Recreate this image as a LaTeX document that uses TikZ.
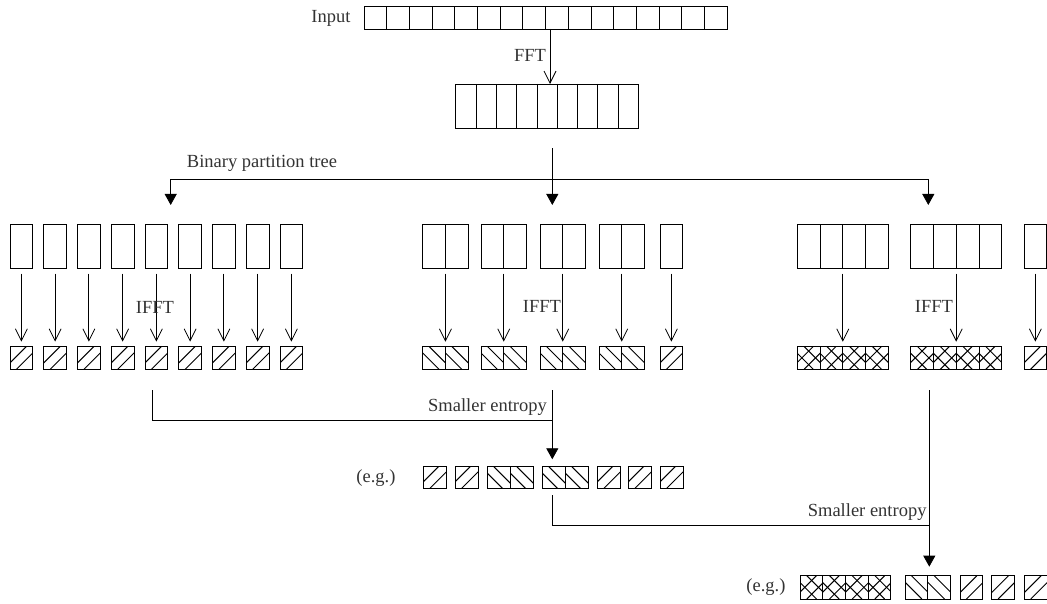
\documentclass[tikz,border=0pt]{standalone}
\usepackage{fontspec}
\setmainfont{Liberation Serif}
\usetikzlibrary{arrows.meta}
\tikzset{
  cellnode/.style={draw, anchor=north west, inner sep=0pt, outer sep=0pt, line width=0.8pt},
  lbl/.style={font=\fontsize{18.5}{22}\selectfont, inner sep=0pt, text=black!80},
  openarr/.style={line width=0.8pt, -{Straight Barb[length=12pt,width=12pt,line width=0.8pt]}},
  triarr/.style={line width=0.8pt, -{Triangle[length=11pt,width=12pt]}},
  plainline/.style={line width=0.8pt},
  hatch/.style={line width=1pt},
}
% #1 name, #2 x, #3 y, #4 cells, #5 cell width, #6 height, #7 pattern (0 none,1 NE,2 NW,3 cross)
\newcommand\cellbox[7]{%
  \node[cellnode, minimum width=#4*#5pt, minimum height=#6pt] (#1) at (#2,#3) {};
  \foreach \k in {1,...,#4}{%
    \pgfmathsetmacro\cx{#2+(\k-1)*#5}%
    \ifnum\k>1 \draw[plainline] (\cx,#3) -- ++(0,#6);\fi
    \begin{scope}
      \clip (\cx,#3) rectangle ++(#5,#6);
      \ifcase#7
      \or
        \draw[hatch] ({\cx-0.285*#5},{#3+#6}) -- ++(#6,-#6);
        \draw[hatch] ({\cx+0.285*#5},{#3+#6}) -- ++(#6,-#6);
      \or
        \draw[hatch] ({\cx-0.285*#5},#3) -- ++(#6,#6);
        \draw[hatch] ({\cx+0.285*#5},#3) -- ++(#6,#6);
      \or
        \draw[hatch] ({\cx-0.3*#5},{#3+#6}) -- ++(#6,-#6);
        \draw[hatch] ({\cx+0.3*#5},{#3+#6}) -- ++(#6,-#6);
        \draw[hatch] ({\cx-0.3*#5},#3) -- ++(#6,#6);
        \draw[hatch] ({\cx+0.3*#5},#3) -- ++(#6,#6);
      \fi
    \end{scope}
  }%
}
\begin{document}
\begin{tikzpicture}[x=1pt,y=-1pt]
\useasboundingbox (0,0) rectangle (1047,604);

% Input and spectrum
\node[lbl] (inlbl) at (331,18) {Input};
\cellbox{in}{364}{6.7}{16}{22.69}{22.3}{0}
\cellbox{sp}{455.7}{84}{9}{20.3}{44.5}{0}
\coordinate (fftx) at (550,0);
\draw[openarr] (in.south -| fftx) -- (sp.north -| fftx);
\node[lbl] (fftlbl) at (530,55) {FFT};

% Group 1
\foreach \i in {0,...,8}{
  \pgfmathsetmacro\gx{10+33.75*\i}
  \cellbox{g1t\i}{\gx}{224.5}{1}{22.75}{44}{0}
  \cellbox{g1b\i}{\gx}{346.5}{1}{22.75}{22.8}{1}
  \draw[openarr, shorten <=5pt, shorten >=4.8pt] (g1t\i.south) -- (g1b\i.north);
}
% Group 2
\foreach \gx/\n/\p [count=\i] in {422.7/2/2, 481/2/2, 540/2/2, 599/2/2, 660/1/1}{
  \cellbox{g2t\i}{\gx}{224.5}{\n}{22.75}{44}{0}
  \cellbox{g2b\i}{\gx}{346.5}{\n}{22.75}{22.8}{\p}
  \draw[openarr, shorten <=5pt, shorten >=4.8pt] (g2t\i.south) -- (g2b\i.north);
}
% Group 3
\foreach \gx/\n/\p [count=\i] in {797.3/4/3, 910.7/4/3, 1024/1/1}{
  \cellbox{g3t\i}{\gx}{224.5}{\n}{22.75}{44}{0}
  \cellbox{g3b\i}{\gx}{346.5}{\n}{22.75}{22.8}{\p}
  \draw[openarr, shorten <=5pt, shorten >=4.8pt] (g3t\i.south) -- (g3b\i.north);
}
\node[lbl] (ifft1) at (155,307) {IFFT};
\node[lbl] (ifft2) at (542,306) {IFFT};
\node[lbl] (ifft3) at (934,306) {IFFT};

% Binary partition tree
\coordinate (fork) at (552.3,148.3);
\coordinate (hl) at (170.7,179.3);
\coordinate (hr) at (928.3,179.3);
\coordinate (hm) at (552.3,179.3);
\draw[triarr, shorten >=19.5pt] (fork) -- (fork |- g2t3.north);
\draw[triarr, shorten >=19.5pt] (hm) -- (hl) -- (hl |- g1t4.north);
\draw[triarr, shorten >=19.5pt] (hm) -- (hr) -- (hr |- g3t2.north);
\node[lbl] (bpt) at (262,163) {Binary partition tree};

% Example row 1
\node[lbl] (eg1) at (376,478) {(e.g.)};
\foreach \gx/\n/\p [count=\i] in {423.3/1/1, 455/1/1, 487.3/2/2, 542.3/2/2, 597.3/1/1, 628.3/1/1, 660/1/1}{
  \cellbox{e1\i}{\gx}{466.7}{\n}{23}{21.7}{\p}
}
% Example row 2
\node[lbl] (eg2) at (766,587) {(e.g.)};
\foreach \gx/\n/\p [count=\i] in {800/4/3, 905/2/2, 960/1/1, 991.7/1/1, 1024.3/1/1}{
  \cellbox{e2\i}{\gx}{575.7}{\n}{22.7}{23.3}{\p}
}

% Smaller entropy 1
\coordinate (s1a) at (152.3,390);
\coordinate (s1b) at (152.3,420.7);
\coordinate (s1c) at (552.3,390);
\draw[plainline] (s1a) -- (s1b) -- (s1b -| s1c);
\draw[triarr, shorten >=7.4pt] (s1c) -- (s1c |- e14.north);
\node[lbl, anchor=south east] (se1) at (547,416) {Smaller entropy};

% Smaller entropy 2
\coordinate (s2a) at (552.3,495);
\coordinate (s2b) at (552.3,525.7);
\coordinate (s2c) at (929.3,390);
\draw[plainline] (s2a) -- (s2b) -- (s2b -| s2c);
\draw[triarr, shorten >=9pt] (s2c) -- (s2c |- e22.north);
\node[lbl, anchor=south east] (se2) at (926.7,521) {Smaller entropy};
\end{tikzpicture}
\end{document}
